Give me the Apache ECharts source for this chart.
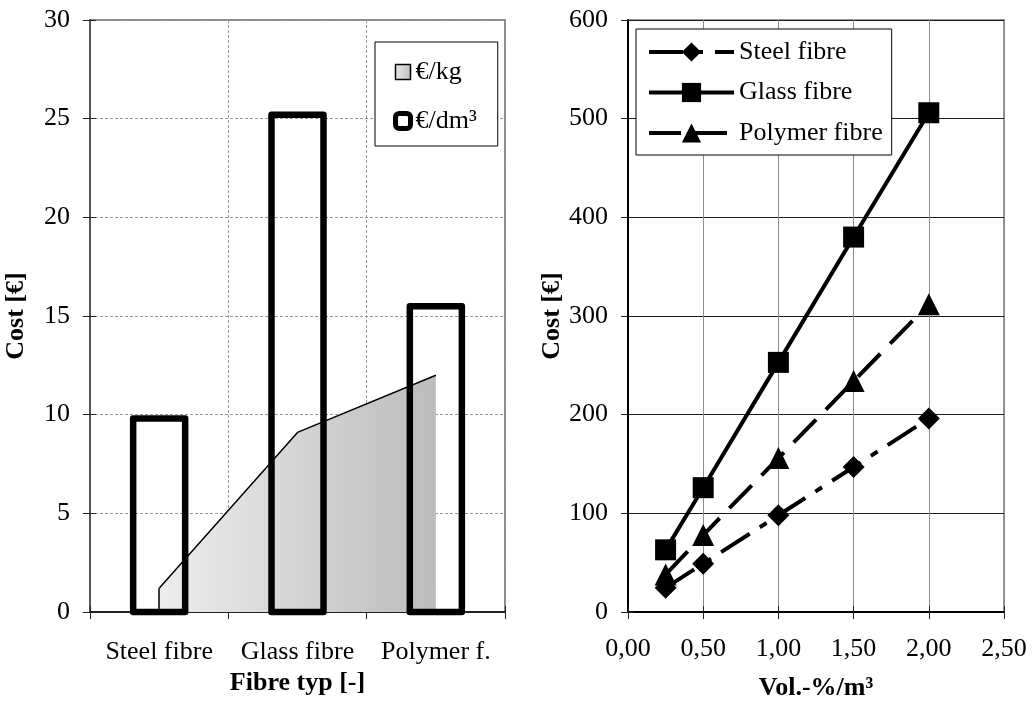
<!DOCTYPE html>
<html>
<head>
<meta charset="utf-8">
<script src="https://cdn.jsdelivr.net/npm/echarts@6/dist/echarts.min.js"></script>
<style>
html,body{margin:0;padding:0;background:#fff;}
#chart{width:1034px;height:706px;}
</style>
</head>
<body>
<div id="chart"></div>
<script>
// ---- data ----
const categories = ['Steel fibre', 'Glass fibre', 'Polymer f.'];
const costPerKg = [1.2, 9.1, 12.0];
const costPerDm3 = [9.8, 25.2, 15.5];
const volumes = [0.25, 0.5, 1.0, 1.5, 2.0];
const steelCost = [24.5, 49, 98, 147, 196];
const glassCost = [63, 126, 253, 380, 506];
const polymerCost = [38, 78, 156, 234, 312];
const seriesNames = ['Steel fibre', 'Glass fibre', 'Polymer fibre'];
const barLegendNames = ['€/kg', '€/dm³'];

const FONT = 'Liberation Serif';
const FS = 26;

const chart = echarts.init(document.getElementById('chart'), null, {renderer: 'canvas'});

const pairs = vals => volumes.map((v, i) => [v, vals[i]]);
const kgGradient = () => new echarts.graphic.LinearGradient(0, 0, 1, 0, [
  {offset: 0, color: '#ededed'}, {offset: 1, color: '#bcbcbc'}
]);

const tickAxisCommon = {
  axisLine: {show: false}, axisLabel: {show: false}, splitLine: {show: false},
  axisTick: {show: true, inside: true, length: 6, lineStyle: {color: '#222', width: 1}}
};

const option = {
  backgroundColor: '#fff',
  animation: false,
  textStyle: {fontFamily: FONT},
  grid: [
    {left: 90, right: 529, top: 20, bottom: 94, show: true, borderColor: '#8a8a8a', borderWidth: 2},
    {left: 628, right: 30, top: 20, bottom: 93, show: true, borderColor: '#999', borderWidth: 2}
  ],
  legend: [
    {
      data: [
        {name: barLegendNames[0], icon: 'rect', itemStyle: {color: kgGradient(), borderColor: '#000', borderWidth: 1.5}},
        {name: barLegendNames[1], icon: 'roundRect', itemStyle: {color: '#fff', borderColor: '#000', borderWidth: 5}}
      ],
      orient: 'vertical', left: 375, top: 42,
      padding: [17, 21, 12, 18], itemGap: 23, itemWidth: 15, itemHeight: 15,
      backgroundColor: '#fff', borderColor: '#000', borderWidth: 1,
      textStyle: {fontFamily: FONT, fontSize: FS, color: '#000'}
    },
    {
      data: seriesNames,
      orient: 'vertical', left: 636, top: 29,
      padding: [10, 9, 9, 11], itemGap: 14.5, itemWidth: 85, itemHeight: 24,
      backgroundColor: '#fff', borderColor: '#000', borderWidth: 1,
      lineStyle: {width: 4},
      textStyle: {fontFamily: FONT, fontSize: FS, color: '#000'}
    }
  ],
  xAxis: [
    {
      gridIndex: 0, type: 'category', data: categories, position: 'bottom',
      name: 'Fibre typ [-]', nameLocation: 'middle', nameGap: 58,
      nameTextStyle: {fontFamily: FONT, fontSize: FS, fontWeight: 'bold', color: '#000'},
      axisLine: {lineStyle: {color: '#222', width: 2}},
      axisTick: {show: true, length: 7, lineStyle: {color: '#222', width: 1}},
      axisLabel: {fontFamily: FONT, fontSize: FS, color: '#000', margin: 27, interval: 0},
      splitLine: {show: true, interval: 0, lineStyle: {color: '#999', width: 1, type: [3, 2]}}
    },
    Object.assign({gridIndex: 0, type: 'category', data: categories, position: 'bottom'}, tickAxisCommon),
    {
      gridIndex: 1, type: 'value', min: 0, max: 2.5, interval: 0.5, position: 'bottom',
      name: 'Vol.-%/m³', nameLocation: 'middle', nameGap: 63,
      nameTextStyle: {fontFamily: FONT, fontSize: FS, fontWeight: 'bold', color: '#000'},
      axisLine: {lineStyle: {color: '#000', width: 2}},
      axisTick: {show: true, length: 7, lineStyle: {color: '#222', width: 1}},
      axisLabel: {fontFamily: FONT, fontSize: FS, color: '#000', margin: 24,
        formatter: v => v.toFixed(2).replace('.', ',')},
      splitLine: {show: true, lineStyle: {color: '#8c8c8c', width: 1}}
    },
    Object.assign({gridIndex: 1, type: 'value', min: 0, max: 2.5, interval: 0.5, position: 'bottom'}, tickAxisCommon)
  ],
  yAxis: [
    {
      gridIndex: 0, type: 'value', min: 0, max: 30, interval: 5, position: 'left',
      name: 'Cost [€]', nameLocation: 'middle', nameGap: 61,
      nameTextStyle: {fontFamily: FONT, fontSize: FS, fontWeight: 'bold', color: '#000'},
      axisLine: {show: true, lineStyle: {color: '#555', width: 2}},
      axisTick: {show: true, length: 7, lineStyle: {color: '#222', width: 1}},
      axisLabel: {fontFamily: FONT, fontSize: FS, color: '#000', margin: 20},
      splitLine: {show: true, lineStyle: {color: '#999', width: 1, type: [3, 2]}}
    },
    Object.assign({gridIndex: 0, type: 'value', min: 0, max: 30, interval: 5, position: 'left'}, tickAxisCommon),
    {
      gridIndex: 1, type: 'value', min: 0, max: 600, interval: 100, position: 'left',
      name: 'Cost [€]', nameLocation: 'middle', nameGap: 61,
      nameTextStyle: {fontFamily: FONT, fontSize: FS, fontWeight: 'bold', color: '#000'},
      axisLine: {show: true, lineStyle: {color: '#000', width: 2}},
      axisTick: {show: true, length: 7, lineStyle: {color: '#222', width: 1}},
      axisLabel: {fontFamily: FONT, fontSize: FS, color: '#000', margin: 20},
      splitLine: {show: true, lineStyle: {color: '#1a1a1a', width: 1}}
    },
    Object.assign({gridIndex: 1, type: 'value', min: 0, max: 600, interval: 100, position: 'left'}, tickAxisCommon)
  ],
  series: [
    {
      name: barLegendNames[0], type: 'line', xAxisIndex: 0, yAxisIndex: 0,
      data: costPerKg, symbol: 'none', z: 2,
      lineStyle: {color: '#000', width: 1.5},
      itemStyle: {color: '#ccc'},
      areaStyle: {color: kgGradient(), opacity: 1},
      markLine: {
        silent: true, symbol: 'none', label: {show: false},
        lineStyle: {color: '#000', width: 1.5, type: 'solid'},
        data: [[{coord: [0, 0]}, {coord: [0, costPerKg[0]]}]]
      }
    },
    {
      name: barLegendNames[1], type: 'custom', xAxisIndex: 0, yAxisIndex: 0,
      data: costPerDm3.map((v, i) => [i, v]), z: 3,
      encode: {x: 0, y: 1},
      itemStyle: {color: '#000'},
      renderItem: (params, api) => {
        const idx = api.value(0);
        const val = api.value(1);
        const top = api.coord([idx, val]);
        const base = api.coord([idx, 0]);
        const bw = api.size([1, 0])[0] * 0.376;
        return {
          type: 'rect',
          shape: {x: top[0] - bw / 2, y: top[1], width: bw, height: base[1] - top[1]},
          style: {fill: 'none', stroke: '#000', lineWidth: 6.5, lineJoin: 'round'}
        };
      }
    },
    {
      name: seriesNames[0], type: 'line', xAxisIndex: 2, yAxisIndex: 2,
      data: pairs(steelCost), symbol: 'diamond', symbolSize: 22,
      lineStyle: {color: '#000', width: 4, type: [34, 12, 8, 12]},
      itemStyle: {color: '#000'}, z: 4
    },
    {
      name: seriesNames[1], type: 'line', xAxisIndex: 2, yAxisIndex: 2,
      data: pairs(glassCost), symbol: 'rect', symbolSize: 21,
      lineStyle: {color: '#000', width: 4, type: 'solid'},
      itemStyle: {color: '#000'}, z: 4
    },
    {
      name: seriesNames[2], type: 'line', xAxisIndex: 2, yAxisIndex: 2,
      data: pairs(polymerCost), symbol: 'triangle', symbolSize: 22,
      lineStyle: {color: '#000', width: 4, type: [32, 14]},
      itemStyle: {color: '#000'}, z: 4
    }
  ]
};
chart.setOption(option);
</script>
</body>
</html>
